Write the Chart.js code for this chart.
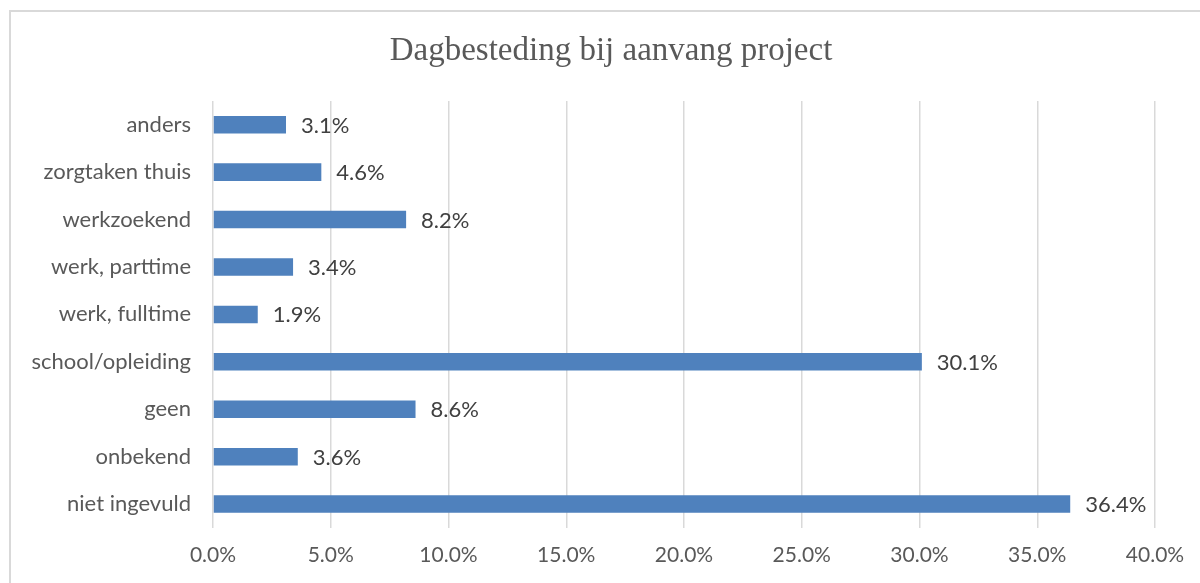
<!DOCTYPE html>
<html>
<head>
<meta charset="utf-8">
<script src="https://cdn.jsdelivr.net/npm/chart.js@4"></script>
<style>
  body { margin: 0; background: #fff; }
  #wrap { position: relative; width: 1200px; height: 583px; overflow: hidden; }
  #frame { position: absolute; left: 9px; top: 10px; width: 1200px; height: 600px; border: 2px solid #d9d9d9; box-sizing: border-box; pointer-events: none; }
</style>
</head>
<body>
<div id="wrap">
  <canvas id="dagChart" width="1200" height="583"></canvas>
  <div id="frame"></div>
</div>
<script>
const categories = ["anders", "zorgtaken thuis", "werkzoekend", "werk, parttime", "werk, fulltime", "school/opleiding", "geen", "onbekend", "niet ingevuld"];
const percentages = [3.1, 4.6, 8.2, 3.4, 1.9, 30.1, 8.6, 3.6, 36.4];
const xMax = 40;
const xStep = 5;
const titleText = "Dagbesteding bij aanvang project";

// labels naast de balken
const barLabels = {
  id: "barLabels",
  afterDatasetsDraw(chart) {
    const ctx = chart.ctx;
    const meta = chart.getDatasetMeta(0);
    ctx.save();
    ctx.font = "22px Lato";
    ctx.fillStyle = "#404040";
    ctx.textAlign = "left";
    ctx.textBaseline = "middle";
    meta.data.forEach((bar, i) => {
      ctx.fillText(percentages[i].toFixed(1) + "%", bar.x + 15, bar.y + 1);
    });
    ctx.restore();
  },
};

// titel gecentreerd op het kader, niet op het plotgebied
const frameTitle = {
  id: "frameTitle",
  afterDraw(chart) {
    const ctx = chart.ctx;
    ctx.save();
    ctx.font = "33px 'Liberation Serif'";
    ctx.fillStyle = "#595959";
    ctx.textAlign = "center";
    ctx.textBaseline = "middle";
    ctx.fillText(titleText, 611, 51);
    ctx.restore();
  },
};

const ctx = document.getElementById("dagChart").getContext("2d");
new Chart(ctx, {
  type: "bar",
  data: {
    labels: categories,
    datasets: [
      {
        data: percentages,
        backgroundColor: "#4f81bd",
        borderWidth: 0,
        barPercentage: 0.37,
        categoryPercentage: 1,
      },
    ],
  },
  options: {
    indexAxis: "y",
    responsive: false,
    animation: false,
    layout: {
      padding: { left: 0, right: 45, top: 101, bottom: 0 },
    },
    scales: {
      x: {
        min: 0,
        max: xMax,
        ticks: {
          stepSize: xStep,
          padding: 15,
          color: "#595959",
          font: { family: "Lato", size: 21 },
          callback: function (value) {
            return value.toFixed(1) + "%";
          },
        },
        grid: {
          color: "#d9d9d9",
          lineWidth: 1.5,
          drawTicks: false,
        },
        border: { display: false },
      },
      y: {
        ticks: {
          padding: 22,
          color: "#595959",
          font: { family: "Lato", size: 22 },
        },
        grid: { display: false, drawTicks: false },
        border: { display: false },
        afterFit: function (scale) {
          scale.width = 213;
        },
      },
    },
    plugins: {
      legend: { display: false },
      tooltip: { enabled: false },
      title: { display: false },
    },
  },
  plugins: [barLabels, frameTitle],
});
</script>
</body>
</html>
